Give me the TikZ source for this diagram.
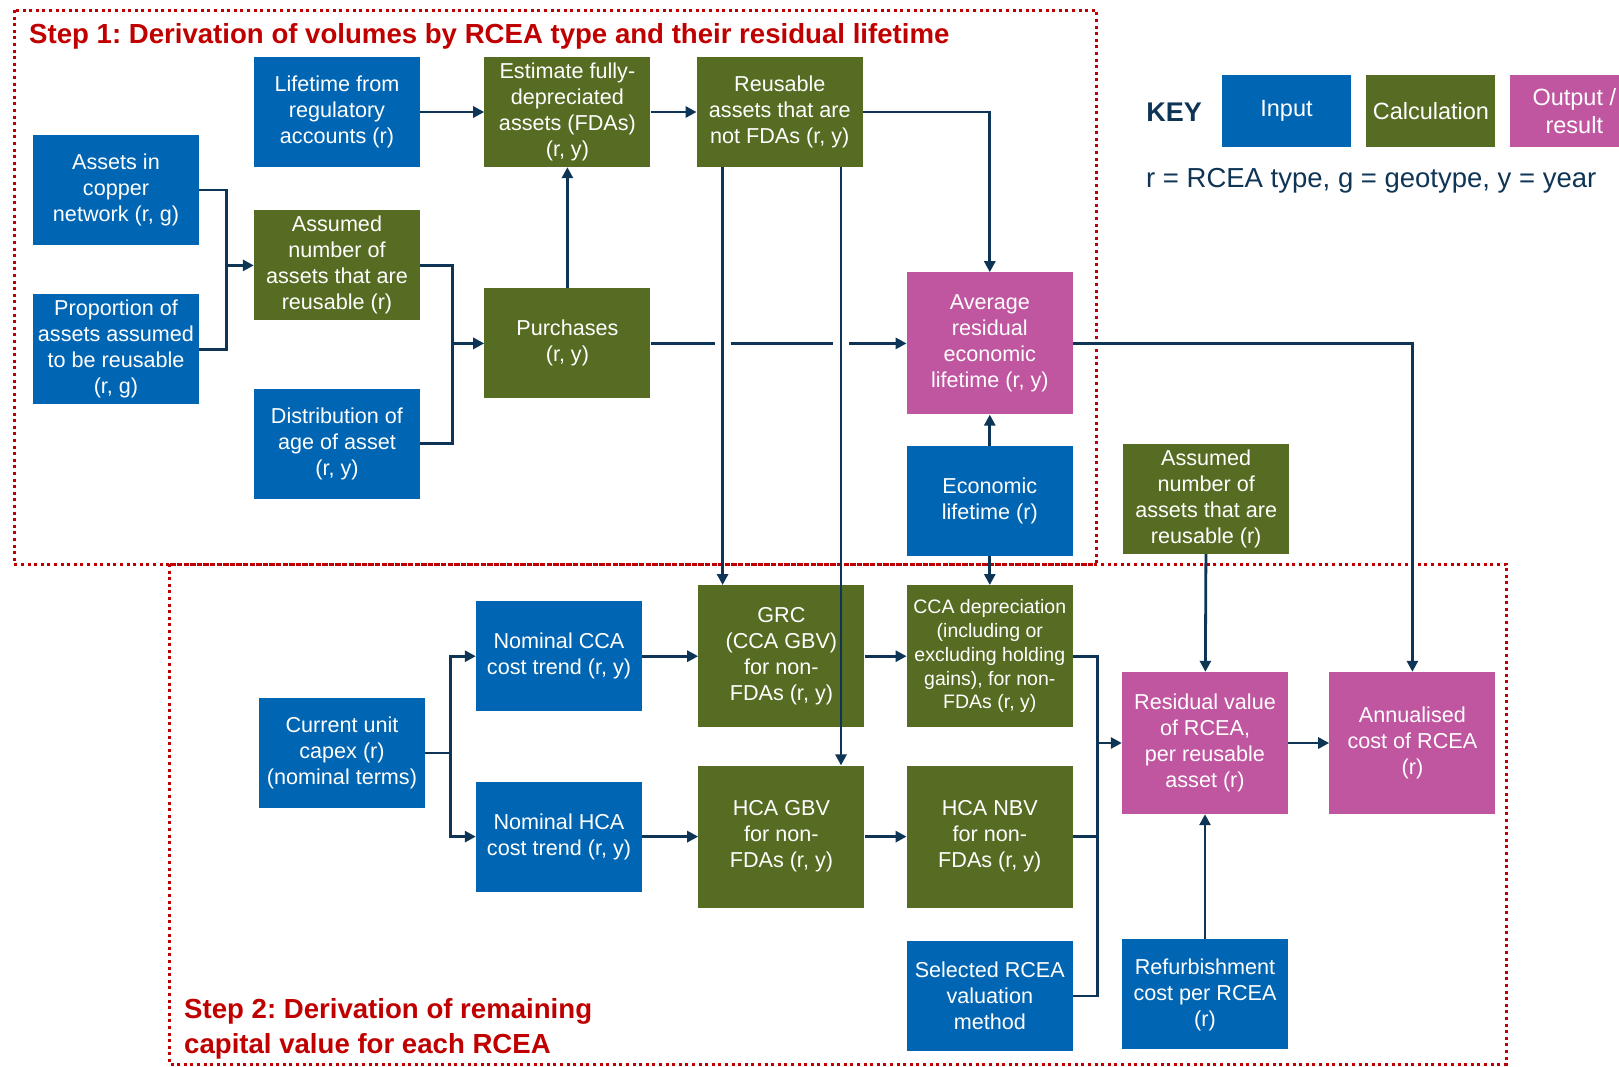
\documentclass[tikz,border=0pt]{standalone}
\usepackage{fontspec}
\setmainfont{Liberation Sans}
\usetikzlibrary{arrows.meta,positioning,calc}

\definecolor{inblue}{HTML}{0066B3}
\definecolor{calcgreen}{HTML}{566C22}
\definecolor{outpink}{HTML}{C055A0}
\definecolor{linknavy}{HTML}{0F3556}
\definecolor{stepred}{HTML}{C00000}

\begin{document}
\frenchspacing
\begin{tikzpicture}[
  x=1pt, y=1pt,
  every node/.style={font=\fontsize{21.6}{26}\selectfont},
  box/.style={inner sep=2pt, minimum width=166pt, minimum height=110pt,
              align=center, text=white},
  inp/.style={box, fill=inblue},
  calc/.style={box, fill=calcgreen},
  outp/.style={box, fill=outpink},
  tall/.style={minimum height=142pt},
  keybox/.style={minimum width=129pt, minimum height=72pt,
                 font=\fontsize{23.5}{28}\selectfont},
  link/.style={line width=2.8pt, draw=linknavy},
  arr/.style={link, -{Triangle[length=11pt,width=11pt]}},
  frame/.style={draw=stepred, line width=3pt, dash pattern=on 3pt off 3.6pt},
  steptitle/.style={text=stepred, font=\fontsize{27.6}{34.5}\selectfont\bfseries,
                    inner sep=0pt, align=left},
]
  \useasboundingbox (0,0) rectangle (1619,-1066);
  \clip (0,0) rectangle (1619,-1066);

  \draw[frame] (14,-10) rectangle (1096,-564);
  \draw[frame] (169,-564) rectangle (1506,-1064);
  \node[steptitle, anchor=base west] (step1) at (29,-43)
    {Step 1: Derivation of volumes by RCEA type and their residual lifetime};
  \node[steptitle, anchor=base west] (step2) at (184,-1053)
    {Step 2: Derivation of remaining\\capital value for each RCEA};

  % step 1
  \node[inp] (copper) at (116,-190) {Assets in\\copper\\network (r, g)};
  \node[inp, below=49pt of copper] (propn) {Proportion of\\assets assumed\\to be reusable\\(r, g)};
  \node[inp] (life) at (337,-112) {Lifetime from\\regulatory\\accounts (r)};
  \node[calc, below=43pt of life] (numreuse) {Assumed\\number of\\assets that are\\reusable (r)};
  \node[inp, below=68pt of numreuse] (agedist) {Distribution of\\age of asset\\(r, y)};
  \node[calc, right=64pt of life] (fda) {Estimate fully-\\depreciated\\assets (FDAs)\\(r, y)};
  \node[calc, right=46pt of fda] (nonfda) {Reusable\\assets that are\\not FDAs (r, y)};
  \node[calc, below=121pt of fda] (purch) {Purchases\\(r, y)};
  \node[outp, tall, right=256pt of purch] (avglife) {Average\\residual\\economic\\lifetime (r, y)};
  \node[inp, below=31pt of avglife] (econlife) {Economic\\lifetime (r)};
  \node[calc, right=50pt of econlife, yshift=2pt] (numreuse2) {Assumed\\number of\\assets that are\\reusable (r)};

  % step 2
  \node[calc, tall, below=29pt of econlife, font=\fontsize{19.5}{23.8}\selectfont] (ccadep)
    {CCA depreciation\\(including or\\excluding holding\\gains), for non-\\FDAs (r, y)};
  \node[calc, tall, left=42pt of ccadep] (grc) {GRC\\(CCA GBV)\\for non-\\FDAs (r, y)};
  \node[inp, left=56pt of grc] (nomcca) {Nominal CCA\\cost trend (r, y)};
  \node[calc, tall, below=38pt of ccadep] (hcanbv) {HCA NBV\\for non-\\FDAs (r, y)};
  \node[calc, tall, left=42pt of hcanbv] (hcagbv) {HCA GBV\\for non-\\FDAs (r, y)};
  \node[inp, left=56pt of hcagbv] (nomhca) {Nominal HCA\\cost trend (r, y)};
  \node[inp] (capex) at (342,-753) {Current unit\\capex (r)\\(nominal terms)};
  \node[inp, below=33pt of hcanbv] (valmethod) {Selected RCEA\\valuation\\method};
  \node[outp, tall] (residval) at (1205,-743) {Residual value\\of RCEA,\\per reusable\\asset (r)};
  \node[outp, tall, right=41pt of residval] (annual) {Annualised\\cost of RCEA\\(r)};
  \node[inp, below=125pt of residval] (refurb) {Refurbishment\\cost per RCEA\\(r)};

  % key
  \node[text=linknavy, font=\fontsize{27}{32}\selectfont\bfseries] (keylbl) at (1174,-112) {KEY};
  \node[inp, keybox] (keyin) at (1286.5,-111) {Input};
  \node[calc, keybox, right=15pt of keyin] (keycalc) {Calculation};
  \node[outp, keybox, right=14pt of keycalc] (keyout) {Output /\\result};
  \node[anchor=base west, inner sep=0pt, text=linknavy, font=\fontsize{27.5}{32}\selectfont]
    (legend) at (1146,-187) {r = RCEA type, g = geotype, y = year};

  \coordinate (busa) at ($(copper.east)!.5!(numreuse.west)$);
  \draw[link] (copper.east) -| (busa |- propn.east) -- (propn.east);
  \draw[arr] (busa |- numreuse.west) -- (numreuse.west);
  \coordinate (busb) at ($(numreuse.east)!.5!(purch.west)$);
  \draw[link] (numreuse.east) -| (busb |- agedist.east) -- (agedist.east);
  \draw[arr] (busb |- purch.west) -- (purch.west);
  \draw[arr] (life) -- (fda);
  \draw[arr] (fda) -- (nonfda);
  \draw[arr] (purch) -- (fda);
  \draw[arr] (nonfda.east) -| (avglife.north);
  \draw[arr] (econlife) -- (avglife);
  \draw[arr] (avglife.east) -| (annual.north);
  \draw[arr] (econlife) -- (ccadep);

  \coordinate (dropa) at ([xshift=26pt]nonfda.south west);
  \coordinate (dropb) at ([xshift=-22pt]nonfda.south east);
  \draw[arr] (dropa) -- (dropa |- grc.north);
  \draw[arr] (dropb) -- (dropb |- hcagbv.north);
  \draw[link] (purch.east) -- ([xshift=-8pt]dropa |- purch.east);
  \draw[link] ([xshift=8pt]dropa |- purch.east) -- ([xshift=-8pt]dropb |- purch.east);
  \draw[arr] ([xshift=8pt]dropb |- purch.east) -- (avglife.west);

  \coordinate (busc) at ($(capex.east)!.5!(nomcca.west)$);
  \draw[link] (capex.east) -- (busc |- capex.east);
  \draw[arr] (busc |- capex.east) |- (nomcca.west);
  \draw[arr] (busc |- capex.east) |- (nomhca.west);
  \draw[arr] (nomcca) -- (grc);
  \draw[arr] (grc) -- (ccadep);
  \draw[arr] (nomhca) -- (hcagbv);
  \draw[arr] (hcagbv) -- (hcanbv);

  \coordinate (busd) at ($(ccadep.east)!.5!(residval.west)$);
  \draw[link] (ccadep.east) -| (busd |- valmethod.east) -- (valmethod.east);
  \draw[link] (hcanbv.east) -- (busd |- hcanbv.east);
  \draw[arr] (busd |- residval.west) -- (residval.west);
  \draw[arr] (residval) -- (annual);
  \draw[arr] (refurb) -- (residval);
  \draw[arr] (numreuse2) -- (residval);
\end{tikzpicture}
\end{document}
